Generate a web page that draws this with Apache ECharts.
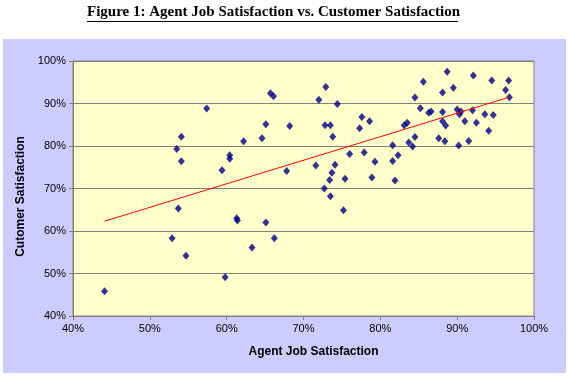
<!DOCTYPE html>
<html>
<head>
<meta charset="utf-8">
<script src="https://cdn.jsdelivr.net/npm/echarts@6/dist/echarts.min.js"></script>
<style>
  html, body { margin: 0; padding: 0; background: #fff; }
  #chart { width: 572px; height: 376px; }
</style>
</head>
<body>
<div id="chart"></div>
<script>
// agent job satisfaction (%) for each point
const agentJob = [
  44.1, 52.9, 53.7, 54.7, 53.5, 54.1, 54.1,
  57.4, 59.4, 60.4, 60.4, 62.2, 64.6, 65.1, 65.7, 66.1, 67.8, 68.2, 71.6, 72.0,
  72.9, 72.8, 73.5, 74.4, 73.8, 74.1, 73.7, 73.4, 72.7, 76.0, 75.4, 77.6, 77.3,
  78.6, 77.9, 79.3, 78.9,
  73.5, 75.2, 61.3, 61.4, 65.1, 66.2, 63.3, 59.8,
  88.7, 92.1, 94.5, 96.7, 85.6, 88.1, 89.5, 96.3, 96.8, 84.5, 85.2, 86.3, 86.6,
  88.1, 90.0, 90.3, 90.5, 92.0, 93.6, 94.7, 88.1, 88.5, 91.0, 92.5, 94.1, 83.1,
  83.5, 84.5, 83.7, 84.2, 87.6, 88.4, 90.2, 91.5, 81.6, 82.3, 81.6, 81.9
];
// customer satisfaction (%) for each point
const customer = [
  45.8, 58.3, 65.3, 54.2, 79.3, 82.2, 76.4,
  88.8, 74.3, 77.8, 77.0, 81.1, 81.8, 85.1, 92.4, 91.7, 74.1, 84.7, 75.4, 90.9,
  93.9, 84.9, 84.9, 89.9, 82.2, 75.6, 73.7, 72.0, 70.0, 78.1, 72.3, 86.8, 84.2,
  85.8, 78.5, 76.3, 72.6,
  68.2, 64.9, 63.0, 62.5, 62.0, 58.3, 56.1, 49.1,
  97.5, 96.6, 95.4, 95.4, 95.1, 92.6, 93.7, 93.2, 91.5, 91.4, 88.9, 87.8, 88.1,
  88.0, 88.6, 87.5, 88.1, 88.4, 87.5, 87.3, 85.8, 84.8, 85.8, 85.5, 83.6, 84.9,
  85.5, 82.1, 80.8, 79.9, 81.8, 81.1, 80.1, 81.2, 80.2, 77.8, 76.5, 71.9
];
// linear trend line end points
const trendX = [44.1, 96.8];
const trendY = [62.3, 91.5];

const xTicks = [40, 100, 10];
const yTicks = [40, 100, 10];

const chart = echarts.init(document.getElementById("chart"));

const points = agentJob.map((x, i) => [x, customer[i]]);
const trend = trendX.map((x, i) => [x, trendY[i]]);

chart.setOption({
  animation: false,
  backgroundColor: "#ffffff",
  graphic: [
    {
      type: "rect",
      z: -10,
      shape: { x: 3, y: 39, width: 563, height: 334 },
      style: { fill: "#ccccff" }
    },
    {
      type: "text",
      left: 87,
      top: 5,
      style: {
        text: "Figure 1: Agent Job Satisfaction vs. Customer Satisfaction",
        font: "bold 15px 'Liberation Serif', 'Times New Roman', serif",
        fill: "#000"
      }
    },
    {
      type: "line",
      shape: { x1: 87, y1: 21.5, x2: 458, y2: 21.5 },
      style: { stroke: "#000", lineWidth: 1 }
    }
  ],
  grid: {
    left: 73,
    right: 38,
    top: 61,
    bottom: 60,
    show: true,
    backgroundColor: "#ffffcc",
    borderColor: "#808080",
    borderWidth: 1
  },
  xAxis: {
    type: "value",
    min: xTicks[0],
    max: xTicks[1],
    interval: xTicks[2],
    name: "Agent Job Satisfaction",
    nameLocation: "middle",
    nameGap: 30,
    nameTextStyle: {
      fontFamily: "'Liberation Sans', Arial, sans-serif",
      fontWeight: "bold",
      fontSize: 12,
      color: "#000",
      padding: [0, 0, 0, 20]
    },
    axisLine: { show: true, lineStyle: { color: "#808080" } },
    axisTick: { show: true, length: 4, inside: false, lineStyle: { color: "#808080" } },
    axisLabel: {
      formatter: "{value}%",
      fontFamily: "'Liberation Sans', Arial, sans-serif",
      fontSize: 11,
      color: "#000",
      margin: 7
    },
    splitLine: { show: false }
  },
  yAxis: {
    type: "value",
    min: yTicks[0],
    max: yTicks[1],
    interval: yTicks[2],
    name: "Cutomer Satisfaction",
    nameLocation: "middle",
    nameGap: 44,
    nameTextStyle: {
      fontFamily: "'Liberation Sans', Arial, sans-serif",
      fontWeight: "bold",
      fontSize: 12,
      color: "#000",
      padding: [0, 16, 0, 0]
    },
    axisLine: { show: true, lineStyle: { color: "#808080" } },
    axisTick: { show: true, length: 4, inside: false, lineStyle: { color: "#808080" } },
    axisLabel: {
      formatter: "{value}%",
      fontFamily: "'Liberation Sans', Arial, sans-serif",
      fontSize: 11,
      color: "#000",
      margin: 7
    },
    splitLine: { show: true, lineStyle: { color: "#808080", width: 1 } }
  },
  series: [
    {
      name: "Customer Satisfaction",
      type: "scatter",
      symbol: "diamond",
      symbolSize: [7, 8],
      itemStyle: { color: "#000080" },
      data: points,
      z: 3
    },
    {
      name: "Trend",
      type: "line",
      data: trend,
      symbol: "none",
      lineStyle: { color: "#ff0000", width: 1 },
      z: 4
    }
  ]
});
</script>
</body>
</html>
